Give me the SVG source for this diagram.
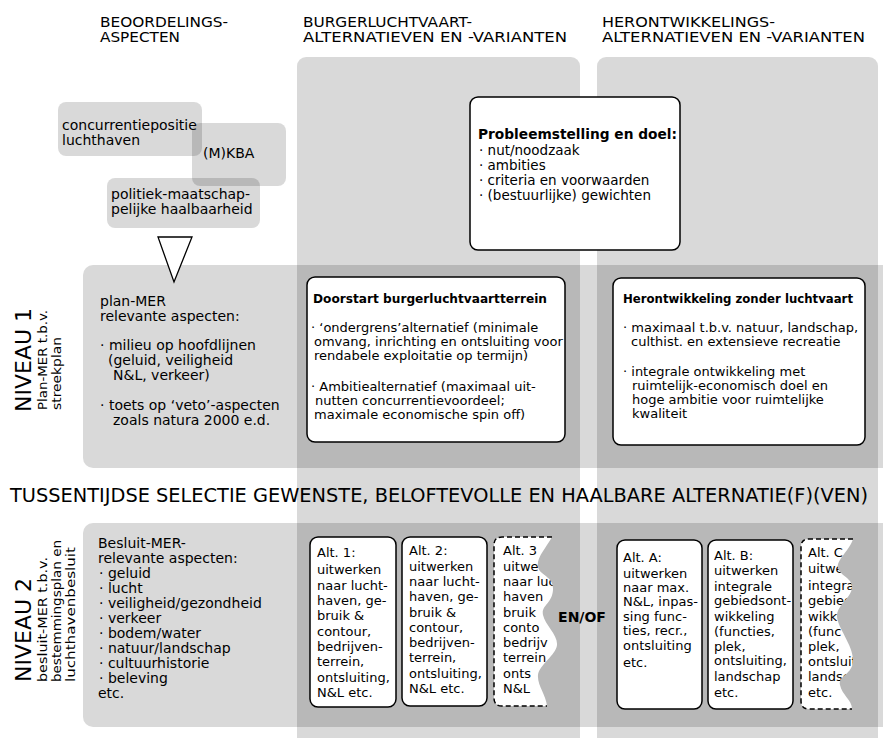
<svg xmlns="http://www.w3.org/2000/svg" width="883" height="738" viewBox="0 0 883 738">
<style>
text{font-family:"DejaVu Sans","Open Sans",sans-serif;fill:#000}
.h{font-size:14px}
.s125{font-size:12.5px}
.s13{font-size:13px}
.s135{font-size:13.5px}
.s14{font-size:14px}
.b{font-weight:bold}
.shade{fill:#000;fill-opacity:0.15}
.card{fill:#fff;stroke:#000;stroke-width:1.5}
.dash{fill:none;stroke:#000;stroke-width:1.5;stroke-dasharray:5 3}
.wf{fill:#fff}
</style>
<defs>
<clipPath id="clip3"><path d="M502,537 H552 C546,548 536,558 538,567 S554,576 553,590 S541,605 543,615 S558,635 557,645 S539,665 538,675 S546,695 547,706 H502 Q494,706 494,698 V545 Q494,537 502,537 Z"/></clipPath>
<clipPath id="clipC"><path d="M809,539 H853 C850,550 836,560 838,568 S853,578 852,588 S837,605 837,616 S853,645 853,660 S838,675 840,685 S852,700 852,709 H809 Q801,709 801,701 V547 Q801,539 809,539 Z"/></clipPath>
</defs>
<rect width="883" height="738" fill="#fff"/>

<g id="headers">
<text class="h" x="100" y="26.5" textLength="128" lengthAdjust="spacingAndGlyphs">BEOORDELINGS-</text>
<text class="h" x="100" y="42" textLength="80" lengthAdjust="spacingAndGlyphs">ASPECTEN</text>
<text class="h" x="303" y="26.5" textLength="169" lengthAdjust="spacingAndGlyphs">BURGERLUCHTVAART-</text>
<text class="h" x="303" y="42" textLength="264" lengthAdjust="spacingAndGlyphs">ALTERNATIEVEN EN -VARIANTEN</text>
<text class="h" x="602" y="26.5" textLength="173" lengthAdjust="spacingAndGlyphs">HERONTWIKKELINGS-</text>
<text class="h" x="602" y="42" textLength="263" lengthAdjust="spacingAndGlyphs">ALTERNATIEVEN EN -VARIANTEN</text>
</g>

<g id="columns">
<rect class="shade" x="297" y="57" width="283" height="700" rx="9"/>
<rect class="shade" x="597" y="57" width="281" height="700" rx="9"/>
</g>

<g id="bands">
<rect class="shade" x="83" y="265" width="830" height="203" rx="10"/>
<rect class="shade" x="83" y="523" width="830" height="204" rx="10"/>
</g>

<g id="aspect-concurrentie">
<rect class="shade" x="58" y="102" width="144" height="54" rx="8"/>
<text class="s14" x="62" y="130">concurrentiepositie</text>
<text class="s14" x="62" y="145">luchthaven</text>
</g>
<g id="aspect-mkba">
<rect class="shade" x="192" y="123" width="94" height="63" rx="8"/>
<text class="s14" x="203" y="158">(M)KBA</text>
</g>
<g id="aspect-politiek">
<rect class="shade" x="107" y="178" width="153" height="50" rx="8"/>
<text class="s14" x="111" y="199">politiek-maatschap-</text>
<text class="s14" x="111" y="214">pelijke haalbaarheid</text>
</g>

<g id="connectors">
<polygon points="158,237 192,237 174,282" fill="#fff" stroke="#000" stroke-width="1.3"/>
</g>

<g id="probleemstelling">
<rect class="card" x="470" y="97" width="210" height="153" rx="8"/>
<text class="s14 b" x="478" y="139" textLength="199" lengthAdjust="spacingAndGlyphs">Probleemstelling en doel:</text>
<text class="s135" x="479" y="155">· nut/noodzaak</text>
<text class="s135" x="479" y="169.5">· ambities</text>
<text class="s135" x="479" y="184.5">· criteria en voorwaarden</text>
<text class="s135" x="479" y="199.5">· (bestuurlijke) gewichten</text>
</g>

<g id="niveau1-label">
<text transform="translate(31,412) rotate(-90)" font-size="22">NIVEAU 1</text>
<text transform="translate(47,410) rotate(-90)" class="s125" textLength="100" lengthAdjust="spacingAndGlyphs">Plan-MER t.b.v.</text>
<text transform="translate(61,410) rotate(-90)" class="s125" textLength="73" lengthAdjust="spacingAndGlyphs">streekplan</text>
</g>

<g id="niveau1-aspecten">
<text class="s14" x="100" y="306">plan-MER</text>
<text class="s14" x="100" y="321">relevante aspecten:</text>
<text class="s14" x="100" y="350">· milieu op hoofdlijnen</text>
<text class="s14" x="108" y="365">(geluid, veiligheid</text>
<text class="s14" x="113" y="380">N&amp;L, verkeer)</text>
<text class="s14" x="100" y="410">· toets op ‘veto’-aspecten</text>
<text class="s14" x="113" y="425">zoals natura 2000 e.d.</text>
</g>

<g id="doorstart">
<rect class="card" x="307" y="277" width="258" height="165" rx="8"/>
<text class="s13 b" x="313" y="303" textLength="234" lengthAdjust="spacingAndGlyphs">Doorstart burgerluchtvaartterrein</text>
<text class="s13" x="311" y="332">· ‘ondergrens’alternatief (minimale</text>
<text class="s13" x="314" y="346">omvang, inrichting en ontsluiting voor</text>
<text class="s13" x="314" y="360">rendabele exploitatie op termijn)</text>
<text class="s13" x="311" y="391">· Ambitiealternatief (maximaal uit-</text>
<text class="s13" x="315" y="405">nutten concurrentievoordeel;</text>
<text class="s13" x="314" y="419">maximale economische spin off)</text>
</g>

<g id="herontwikkeling">
<rect class="card" x="613" y="278" width="252" height="167" rx="8"/>
<text class="s13 b" x="623" y="303" textLength="230" lengthAdjust="spacingAndGlyphs">Herontwikkeling zonder luchtvaart</text>
<text class="s13" x="623" y="332">· maximaal t.b.v. natuur, landschap,</text>
<text class="s13" x="631" y="346">culthist. en extensieve recreatie</text>
<text class="s13" x="623" y="376">· integrale ontwikkeling met</text>
<text class="s13" x="632" y="390">ruimtelijk-economisch doel en</text>
<text class="s13" x="632" y="404">hoge  ambitie voor ruimtelijke</text>
<text class="s13" x="632" y="418">kwaliteit</text>
</g>

<g id="tussentijdse-selectie">
<text x="10" y="502" font-size="19" textLength="858" lengthAdjust="spacingAndGlyphs">TUSSENTIJDSE SELECTIE GEWENSTE, BELOFTEVOLLE EN HAALBARE ALTERNATIE(F)(VEN)</text>
</g>

<g id="niveau2-label">
<text transform="translate(31,682) rotate(-90)" font-size="22">NIVEAU 2</text>
<text transform="translate(47,682) rotate(-90)" class="s125" textLength="125" lengthAdjust="spacingAndGlyphs">besluit-MER t.b.v.</text>
<text transform="translate(61,682) rotate(-90)" class="s125" textLength="142" lengthAdjust="spacingAndGlyphs">bestemmingsplan en</text>
<text transform="translate(75,682) rotate(-90)" class="s125" textLength="135" lengthAdjust="spacingAndGlyphs">luchthavenbesluit</text>
</g>

<g id="niveau2-aspecten">
<text class="s14" x="98" y="548">Besluit-MER-</text>
<text class="s14" x="98" y="563">relevante aspecten:</text>
<text class="s14" x="99" y="578">· geluid</text>
<text class="s14" x="99" y="593">· lucht</text>
<text class="s14" x="99" y="608">· veiligheid/gezondheid</text>
<text class="s14" x="99" y="623">· verkeer</text>
<text class="s14" x="99" y="638">· bodem/water</text>
<text class="s14" x="99" y="653">· natuur/landschap</text>
<text class="s14" x="99" y="668">· cultuurhistorie</text>
<text class="s14" x="99" y="683">· beleving</text>
<text class="s14" x="98" y="698">etc.</text>
</g>

<g id="alt1">
<rect class="card" x="310" y="537" width="86" height="170" rx="8"/>
<text class="s13" x="317" y="557">Alt. 1:</text>
<text class="s13" x="317" y="574">uitwerken</text>
<text class="s13" x="317" y="590">naar lucht-</text>
<text class="s13" x="317" y="605">haven, ge-</text>
<text class="s13" x="317" y="620">bruik &amp;</text>
<text class="s13" x="317" y="636">contour,</text>
<text class="s13" x="317" y="651">bedrijven-</text>
<text class="s13" x="317" y="666">terrein,</text>
<text class="s13" x="317" y="682">ontsluiting,</text>
<text class="s13" x="317" y="697">N&amp;L etc.</text>
</g>

<g id="alt2">
<rect class="card" x="402" y="537" width="85" height="169" rx="8"/>
<text class="s13" x="409" y="555">Alt. 2:</text>
<text class="s13" x="409" y="571">uitwerken</text>
<text class="s13" x="409" y="586">naar lucht-</text>
<text class="s13" x="409" y="601">haven, ge-</text>
<text class="s13" x="409" y="617">bruik &amp;</text>
<text class="s13" x="409" y="632">contour,</text>
<text class="s13" x="409" y="647">bedrijven-</text>
<text class="s13" x="409" y="662">terrein,</text>
<text class="s13" x="409" y="678">ontsluiting,</text>
<text class="s13" x="409" y="693">N&amp;L etc.</text>
</g>

<g id="alt3">
<path class="wf" d="M502,537 H552 C546,548 536,558 538,567 S554,576 553,590 S541,605 543,615 S558,635 557,645 S539,665 538,675 S546,695 547,706 H502 Q494,706 494,698 V545 Q494,537 502,537 Z"/>
<path class="dash" d="M552,537 H502 Q494,537 494,545 V698 Q494,706 502,706 H547"/>
<g clip-path="url(#clip3)">
<text class="s13" x="503" y="555">Alt. 3</text>
<text class="s13" x="503" y="571">uitwe</text>
<text class="s13" x="503" y="586">naar luc</text>
<text class="s13" x="503" y="601">haven</text>
<text class="s13" x="503" y="617">bruik</text>
<text class="s13" x="503" y="632">conto</text>
<text class="s13" x="503" y="647">bedrijv</text>
<text class="s13" x="503" y="662">terrein</text>
<text class="s13" x="503" y="678">onts</text>
<text class="s13" x="503" y="693">N&amp;L</text>
</g>
</g>

<g id="en-of">
<text class="s14 b" x="582" y="622" text-anchor="middle">EN/OF</text>
</g>

<g id="altA">
<rect class="card" x="617" y="540" width="85" height="169" rx="8"/>
<text class="s13" x="623" y="562">Alt. A:</text>
<text class="s13" x="623" y="578">uitwerken</text>
<text class="s13" x="623" y="592">naar max.</text>
<text class="s13" x="623" y="606">N&amp;L, inpas-</text>
<text class="s13" x="623" y="621">sing func-</text>
<text class="s13" x="623" y="635">ties, recr.,</text>
<text class="s13" x="623" y="650">ontsluiting</text>
<text class="s13" x="623" y="667">etc.</text>
</g>

<g id="altB">
<rect class="card" x="708" y="540" width="85" height="169" rx="8"/>
<text class="s13" x="714" y="560">Alt. B:</text>
<text class="s13" x="714" y="575">uitwerken</text>
<text class="s13" x="714" y="591">integrale</text>
<text class="s13" x="714" y="605">gebiedsont-</text>
<text class="s13" x="714" y="621">wikkeling</text>
<text class="s13" x="714" y="636">(functies,</text>
<text class="s13" x="714" y="651">plek,</text>
<text class="s13" x="714" y="665">ontsluiting,</text>
<text class="s13" x="714" y="681">landschap</text>
<text class="s13" x="714" y="697">etc.</text>
</g>

<g id="altC">
<path class="wf" d="M809,539 H853 C850,550 836,560 838,568 S853,578 852,588 S837,605 837,616 S853,645 853,660 S838,675 840,685 S852,700 852,709 H809 Q801,709 801,701 V547 Q801,539 809,539 Z"/>
<path class="dash" d="M853,539 H809 Q801,539 801,547 V701 Q801,709 809,709 H852"/>
<g clip-path="url(#clipC)">
<text class="s13" x="808" y="557">Alt. C</text>
<text class="s13" x="808" y="573">uitwe</text>
<text class="s13" x="808" y="590">integra</text>
<text class="s13" x="808" y="605">gebied</text>
<text class="s13" x="808" y="621">wikk</text>
<text class="s13" x="808" y="636">(func</text>
<text class="s13" x="808" y="651">plek,</text>
<text class="s13" x="808" y="666">ontsluit</text>
<text class="s13" x="808" y="681">landsc</text>
<text class="s13" x="808" y="697">etc.</text>
</g>
</g>
</svg>
